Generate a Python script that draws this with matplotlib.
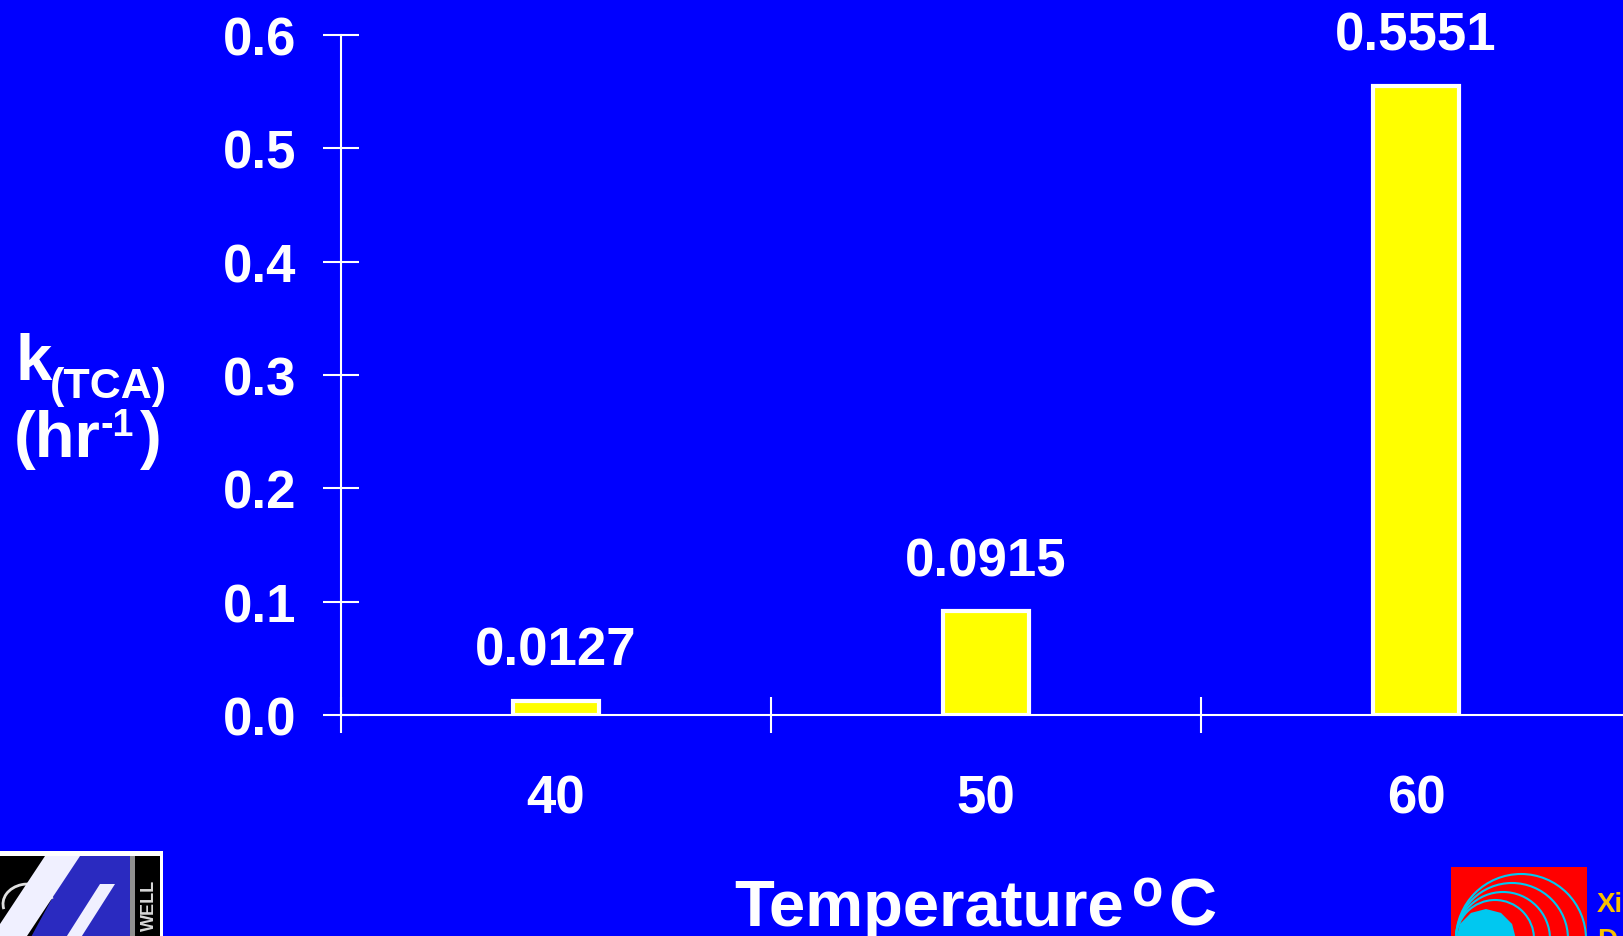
#!/usr/bin/env python3

import matplotlib
matplotlib.use("Agg")
import matplotlib.pyplot as plt
from matplotlib.patches import Rectangle, Polygon, Arc

# data
temps = ["40", "50", "60"]
k_tca = [0.0127, 0.0915, 0.5551]
y_ticks = [0.0, 0.1, 0.2, 0.3, 0.4, 0.5, 0.6]

W, H = 1623, 937
BLUE = "#0000FF"

plt.rcParams["font.family"] = ["Liberation Sans", "DejaVu Sans"]
plt.rcParams["font.weight"] = "bold"


def fx(x):
    return x / W


def fy(y):
    return 1 - y / H


fig = plt.figure(figsize=(W / 100, H / 100), dpi=100, facecolor=BLUE)
# axes spans three category slots of ~430 px, the last one runs off the slide
ax = fig.add_axes([fx(341), fy(716), 1290 / W, 680 / H])
ax.set_facecolor(BLUE)

pos = [i + 0.5 for i in range(len(temps))]
ax.bar(pos, k_tca, width=0.2, color="#FFFF00", edgecolor="white",
       linewidth=3, zorder=3)

# value labels above the bars
for x, v in zip(pos, k_tca):
    ax.annotate(f"{v:.4f}", (x, v), xytext=(0, 26), textcoords="offset points",
                ha="center", va="baseline", color="white", fontsize=38)

ax.set_xlim(0, 3)
ax.set_ylim(0, 0.6)
for side in ("top", "right"):
    ax.spines[side].set_visible(False)
for side in ("left", "bottom"):
    ax.spines[side].set_color("white")
    ax.spines[side].set_linewidth(1.5)

ax.set_yticks(y_ticks, [f"{t:.1f}" for t in y_ticks])
ax.tick_params(axis="y", direction="inout", length=26, width=1.5,
               color="white", labelcolor="white", labelsize=38, pad=19)

# category boundaries as ticks, category names on minor ticks
ax.set_xticks([0, 1, 2, 3], [])
ax.set_xticks(pos, temps, minor=True)
ax.tick_params(axis="x", which="major", direction="inout", length=26,
               width=1.5, color="white")
ax.tick_params(axis="x", which="minor", length=0, pad=42,
               labelcolor="white", labelsize=38)

# y label: k(TCA) (hr-1)
fig.text(fx(15), fy(380), "k", color="white", fontsize=47, va="baseline")
fig.text(fx(50), fy(398), "(TCA)", color="white", fontsize=31, va="baseline")
fig.text(fx(14), fy(457), "(hr", color="white", fontsize=47, va="baseline")
fig.text(fx(100), fy(436), "-1", color="white", fontsize=27, va="baseline")
fig.text(fx(140), fy(457), ")", color="white", fontsize=47, va="baseline")

# x label: Temperature oC
fig.text(fx(734), fy(926), "Temperature", color="white", fontsize=47,
         va="baseline")
fig.text(fx(1132), fy(907), "o", color="white", fontsize=37, va="baseline")
fig.text(fx(1168), fy(926), "C", color="white", fontsize=48, va="baseline")


def rect(x0, y0, x1, y1, **kw):
    return Rectangle((fx(x0), fy(y1)), fx(x1) - fx(x0), fy(y0) - fy(y1),
                     transform=fig.transFigure, **kw)


def poly(pts, **kw):
    return Polygon([(fx(x), fy(y)) for x, y in pts], closed=True,
                   transform=fig.transFigure, **kw)


# rough sketch of the university logo, bottom left
fig.add_artist(rect(0, 852, 163, 940, color="white", lw=0))
fig.add_artist(rect(0, 857, 160, 940, color="black", lw=0))
fig.add_artist(poly([(75, 857), (130, 857), (130, 940), (30, 940)],
                    color="#2a2ac0", lw=0))
fig.add_artist(Arc((fx(28), fy(905)), 50 / W, 40 / H, theta1=20, theta2=200,
                   color="#e0e0e0", lw=2, transform=fig.transFigure))
fig.add_artist(poly([(45, 857), (80, 857), (25, 940), (0, 940), (0, 925)],
                    color="#f0f0ff", lw=0))
fig.add_artist(poly([(100, 885), (115, 885), (80, 940), (65, 940)],
                    color="#f0f0ff", lw=0))
fig.add_artist(rect(130, 857, 135, 940, color="#909090", lw=0))
fig.text(fx(149), fy(905), "WELL", color="#d8d8d8", fontsize=13,
         rotation=90, ha="center", va="center")

# rough sketch of the red logo, bottom right
fig.add_artist(rect(1451, 868, 1587, 940, color="#FF0000", lw=0))
for r in (65, 56, 47, 39):
    fig.add_artist(Arc((fx(1456 + r), fy(940)), 2 * r / W, 2 * r / H,
                       theta1=0, theta2=180, color="#00C8F0", lw=1.5,
                       transform=fig.transFigure))
fig.add_artist(poly([(1456 + 30 + 30 * c, 940 - 30 * s) for c, s in
                     [(-1, 0), (-0.87, 0.5), (-0.5, 0.87), (0, 1), (0.5, 0.87),
                      (0.87, 0.5), (1, 0)]], color="#00C8F0", lw=0))
fig.text(fx(1597), fy(912), "Xi", color="#F8C000", fontsize=20, va="baseline")
fig.text(fx(1597), fy(948), "D", color="#F8C000", fontsize=20, va="baseline")

fig.savefig("out.png", dpi=100, facecolor=BLUE)
